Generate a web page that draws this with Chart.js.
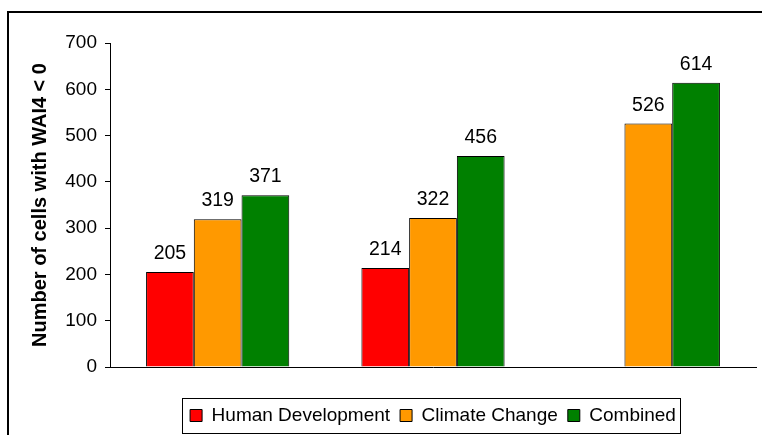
<!DOCTYPE html>
<html>
<head>
<meta charset="utf-8">
<script src="https://cdn.jsdelivr.net/npm/chart.js@4/dist/chart.umd.min.js"></script>
<style>
  html, body { margin: 0; padding: 0; background: #fff; }
  #wrap { width: 762px; height: 435px; }
</style>
</head>
<body>
<div id="wrap"><canvas id="chart" width="762" height="435"></canvas></div>
<script>
// Cells with WAI4 < 0, per scenario group (no category labels on the x axis)
const categories = ['', '', ''];
const humanDevelopment = [205, 214, null];
const climateChange = [319, 322, 526];
const combined = [371, 456, 614];
const yTicks = [0, 100, 200, 300, 400, 500, 600, 700];

const FONT = '"Liberation Sans", Arial, sans-serif';
Chart.defaults.color = '#000';
Chart.defaults.font.family = FONT;

// Outer frame (clipped on the right and bottom in the original)
const framePlugin = {
    id: 'frame',
    beforeDraw(chart) {
        const ctx = chart.ctx;
        ctx.save();
        ctx.fillStyle = '#fff';
        ctx.fillRect(0, 0, chart.width, chart.height);
        ctx.strokeStyle = '#000';
        ctx.lineWidth = 2;
        ctx.strokeRect(8, 12, 1000, 1000);
        ctx.restore();
    }
};

// Value labels above each bar
const valueLabels = {
    id: 'valueLabels',
    afterDatasetsDraw(chart) {
        const ctx = chart.ctx;
        ctx.save();
        ctx.font = '19.5px ' + FONT;
        ctx.fillStyle = '#000';
        ctx.textAlign = 'center';
        ctx.textBaseline = 'alphabetic';
        chart.data.datasets.forEach((ds, i) => {
            chart.getDatasetMeta(i).data.forEach((bar, j) => {
                const v = ds.data[j];
                if (v === null) return;
                ctx.fillText(String(v), bar.x, bar.y - 13);
            });
        });
        ctx.restore();
    }
};

// Box around the legend
const legendBox = {
    id: 'legendBox',
    afterDraw(chart) {
        const boxes = chart.legend && chart.legend.legendHitBoxes;
        if (!boxes || !boxes.length) return;
        const first = boxes[0];
        const last = boxes[boxes.length - 1];
        const left = Math.round(first.left - 8) + 0.5;
        const right = Math.round(last.left + last.width + 4) + 0.5;
        const top = Math.round(first.top - 8) + 0.5;
        const bottom = Math.round(first.top + first.height + 8) + 0.5;
        const ctx = chart.ctx;
        ctx.save();
        ctx.strokeStyle = '#000';
        ctx.lineWidth = 1;
        ctx.strokeRect(left, top, right - left, bottom - top);
        ctx.restore();
    }
};

new Chart(document.getElementById('chart'), {
    type: 'bar',
    data: {
        labels: categories,
        datasets: [
            {
                label: 'Human Development',
                data: humanDevelopment,
                backgroundColor: '#FF0000',
                borderColor: '#000',
                borderWidth: 1
            },
            {
                label: 'Climate Change',
                data: climateChange,
                backgroundColor: '#FF9900',
                borderColor: '#000',
                borderWidth: 1
            },
            {
                label: 'Combined',
                data: combined,
                backgroundColor: '#008000',
                borderColor: '#000',
                borderWidth: 1
            }
        ]
    },
    options: {
        responsive: false,
        animation: false,
        devicePixelRatio: 1,
        layout: { padding: { top: 43, right: 6, bottom: 0, left: 0 } },
        datasets: {
            bar: { categoryPercentage: 0.665, barPercentage: 1.0 }
        },
        plugins: {
            tooltip: { enabled: false },
            legend: {
                position: 'bottom',
                fullSize: false,
                labels: {
                    font: { size: 19 },
                    color: '#000',
                    boxWidth: 12,
                    boxHeight: 12,
                    padding: 10
                }
            }
        },
        scales: {
            x: {
                grid: { display: false },
                ticks: { display: false },
                border: { color: '#000', width: 1 },
                afterFit(scale) { scale.height = 29; }
            },
            y: {
                min: 0,
                max: 700,
                afterBuildTicks(scale) {
                    scale.ticks = yTicks.map(v => ({ value: v }));
                },
                ticks: {
                    font: { size: 19 },
                    color: '#000',
                    padding: 8
                },
                grid: {
                    drawOnChartArea: false,
                    color: '#000',
                    tickLength: 5
                },
                border: { color: '#000', width: 1 },
                title: {
                    display: true,
                    text: 'Number of cells with WAI4 < 0',
                    font: { size: 20, weight: 'bold' },
                    color: '#000',
                    padding: { top: 28, bottom: 0 }
                },
                afterFit(scale) { scale.width = 110; }
            }
        }
    },
    plugins: [framePlugin, valueLabels, legendBox]
});
</script>
</body>
</html>
